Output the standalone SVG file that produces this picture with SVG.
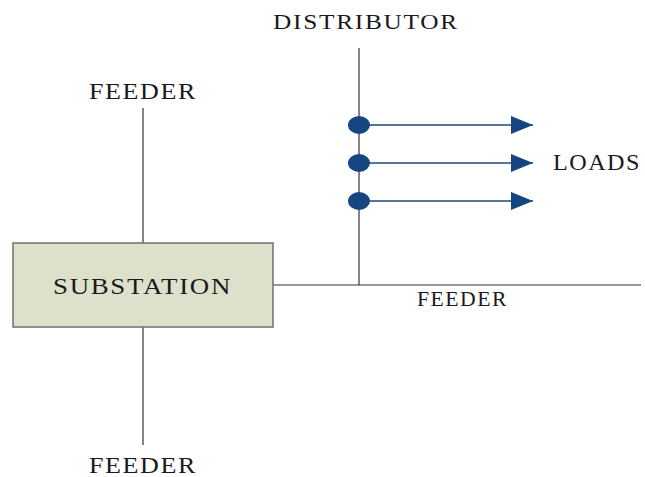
<svg xmlns="http://www.w3.org/2000/svg" width="645" height="477" viewBox="0 0 645 477">
  <style>
    .lbl { font-family: "Liberation Serif", "Times New Roman", serif; font-size: 24px; fill: #1a1a1a; letter-spacing: 1.5px; }
    .wire { stroke: #333; stroke-width: 1.2; fill: none; }
    .load { stroke: #1d4a7e; stroke-width: 1.6; fill: none; }
    .dot { fill: #164682; }
  </style>
  <defs>
    <marker id="tri" markerWidth="22" markerHeight="18" refX="22" refY="9" orient="auto" markerUnits="userSpaceOnUse">
      <path d="M0,0 L22,9 L0,18 Z" fill="#164682"/>
    </marker>
  </defs>

  <g id="connectors">
    <line class="wire" x1="143" y1="108" x2="143" y2="243"/>
    <line class="wire" x1="143" y1="327" x2="143" y2="445"/>
    <line class="wire" x1="273" y1="285" x2="641" y2="285"/>
    <line class="wire" x1="359" y1="48" x2="359" y2="285"/>
    <line class="load" x1="368" y1="125" x2="533" y2="125" marker-end="url(#tri)"/>
    <line class="load" x1="368" y1="163" x2="533" y2="163" marker-end="url(#tri)"/>
    <line class="load" x1="368" y1="201" x2="533" y2="201" marker-end="url(#tri)"/>
  </g>

  <g id="substation">
    <rect x="13" y="243" width="260" height="84" fill="#dde0cb" stroke="#707070" stroke-width="1.5"/>
    <text class="lbl" x="53" y="293.5" textLength="179" lengthAdjust="spacingAndGlyphs">SUBSTATION</text>
  </g>

  <g id="feeder-top">
    <text class="lbl" x="89" y="99" textLength="108" lengthAdjust="spacingAndGlyphs">FEEDER</text>
  </g>

  <g id="feeder-bottom">
    <text class="lbl" x="89" y="473" textLength="108" lengthAdjust="spacingAndGlyphs">FEEDER</text>
  </g>

  <g id="feeder-right">
    <text class="lbl" x="417" y="306" style="font-size:22px" textLength="91" lengthAdjust="spacingAndGlyphs">FEEDER</text>
  </g>

  <g id="distributor">
    <text class="lbl" x="273" y="28.5" style="font-size:22px" textLength="186" lengthAdjust="spacingAndGlyphs">DISTRIBUTOR</text>
  </g>

  <g id="load-points">
    <ellipse class="dot" cx="359" cy="125" rx="11" ry="9"/>
    <ellipse class="dot" cx="359" cy="163" rx="11" ry="9"/>
    <ellipse class="dot" cx="359" cy="201" rx="11" ry="9"/>
  </g>

  <g id="loads">
    <text class="lbl" x="553" y="170" textLength="88" lengthAdjust="spacingAndGlyphs">LOADS</text>
  </g>
</svg>
